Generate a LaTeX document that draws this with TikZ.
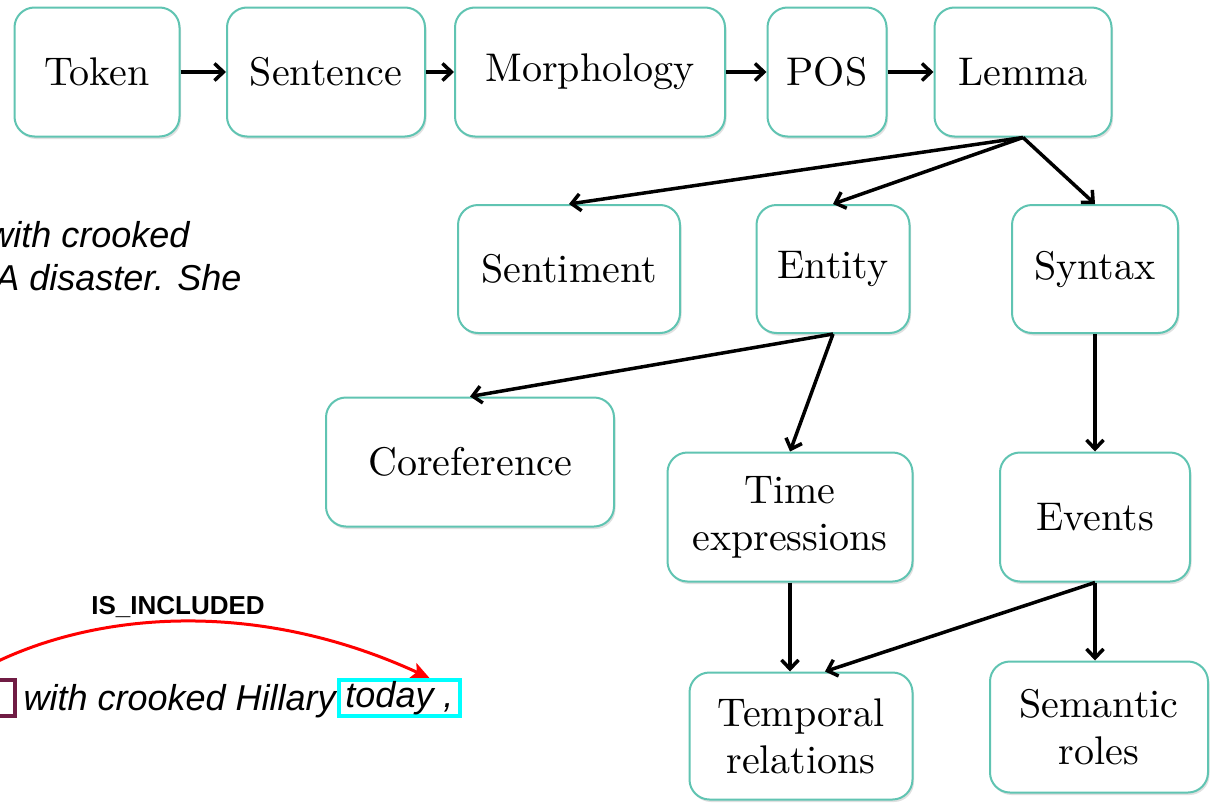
\documentclass[tikz,border=0pt]{standalone}
\usepackage{fontspec}
\newfontfamily\arialfont{Liberation Sans}
\newfontfamily\stagefont{lmroman10-regular.otf}
\usepackage{tikz}
\usetikzlibrary{arrows.meta, positioning, calc, shadows}
\definecolor{boxTeal}{RGB}{96,196,178}
\definecolor{mentionPurple}{RGB}{112,28,68}
\definecolor{mentionCyan}{RGB}{0,255,255}

\tikzset{
  stage/.style={draw=boxTeal, line width=2pt, rounded corners=20pt, fill=white,
    align=center, inner sep=0pt, font=\stagefont\fontsize{40}{47}\selectfont,
    drop shadow={shadow xshift=1.5pt, shadow yshift=-2.5pt, opacity=0.3, fill=black!40}},
  flow/.style={-{Straight Barb[length=9pt,width=17pt]}, line width=3.5pt},
  tweet/.style={font=\arialfont\itshape\fontsize{36}{40}\selectfont},
  mention/.style={line width=4pt, inner sep=0pt, minimum height=36pt},
  relarrow/.style={red, line width=3pt, -{Stealth[length=18pt,width=16pt,inset=4pt]}}
}

\begin{document}
\begin{tikzpicture}[x=1pt, y=-1pt]
\fill[white] (0,0) rectangle (1210,803);
\useasboundingbox (0,0) rectangle (1210,803);

% pipeline stages
\node[stage, minimum width=165pt, minimum height=129pt] (token) at (97,72) {Token};
\node[stage, minimum width=198pt, minimum height=129pt] (sentence) at (326,72) {Sentence};
\node[stage, minimum width=270pt, minimum height=129pt] (morph) at (590,72) {Morphology};
\node[stage, minimum width=119pt, minimum height=129pt] (pos) at (827,72) {POS};
\node[stage, minimum width=177pt, minimum height=129pt] (lemma) at (1023,72) {Lemma};

\node[stage, minimum width=222pt, minimum height=128pt] (sentiment) at (569,269) {Sentiment};
\node[stage, minimum width=153pt, minimum height=128pt] (entity) at (833,269) {Entity};
\node[stage, minimum width=166pt, minimum height=128pt] (syntax) at (1095,269) {Syntax};

\node[stage, minimum width=288pt, minimum height=129pt] (coref) at (470,462) {Coreference};
\node[stage, minimum width=245pt, minimum height=129pt] (timex) at (790,517) {Time\\expressions};
\node[stage, minimum width=190pt, minimum height=129pt] (events) at (1095,517) {Events};

\node[stage, minimum width=223pt, minimum height=127pt] (temprel) at (801,736) {Temporal\\relations};
\node[stage, minimum width=218pt, minimum height=131pt] (semroles) at (1099,727) {Semantic\\roles};

\foreach \a/\b in {token/sentence, sentence/morph, morph/pos, pos/lemma}
    \draw[flow] (\a) -- (\b);

\draw[flow] (lemma.south) -- (sentiment.north);
\draw[flow] (lemma.south) -- (entity.north);
\draw[flow] (lemma.south) -- (syntax.north);
\draw[flow] (entity.south) -- (coref.north);
\draw[flow] (entity.south) -- (timex.north);
\draw[flow] (syntax.south) -- (events.north);
\draw[flow] (timex.south) -- (timex.south |- temprel.north);
\draw[flow] (events.south) -- ([xshift=24pt]temprel.north);
\draw[flow] (events.south) -- (events.south |- semroles.north);

% tweet text
\node[tweet, anchor=base east] (tweetTopA) at (193,247) {with crooked};
\node[tweet, anchor=base east] (tweetTopB) at (245,290) {A disaster. She};

\node[mention, draw=mentionPurple, minimum width=43pt] (host) at (-6.5,698) {};
\node[tweet, anchor=base west] (tweetLow) at (20,710) {with crooked Hillary};
\node[tweet, mention, draw=mentionCyan, minimum width=121pt] (today) at (399.5,698) {today ,};

\coordinate (arcStart) at (-10,665);
\draw[relarrow] (arcStart) .. controls (100,610) and (260,600) .. ([xshift=30pt]today.north);
\node[font=\arialfont\bfseries\fontsize{26}{30}\selectfont] (relLabel) at (178,607) {IS\_INCLUDED};
\end{tikzpicture}
\end{document}
